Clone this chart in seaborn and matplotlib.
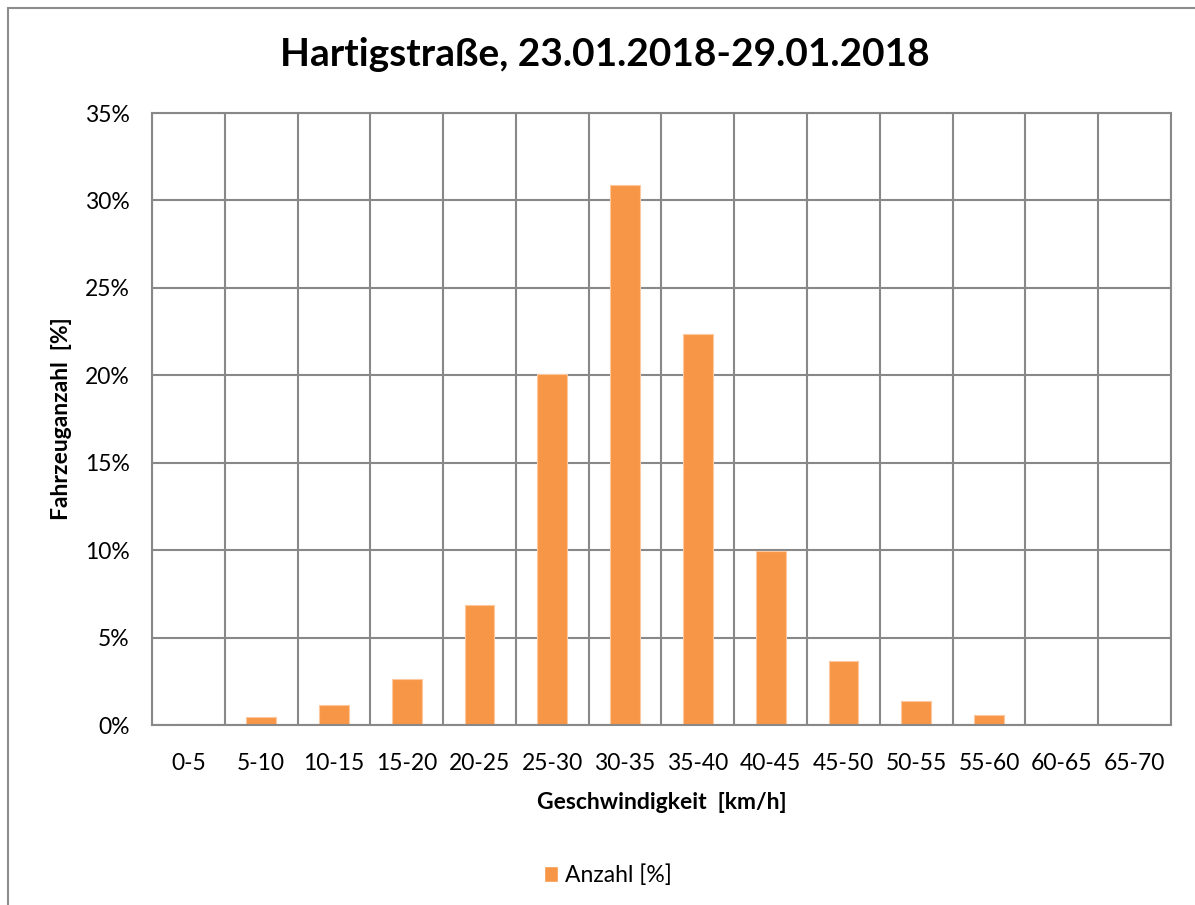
import matplotlib
matplotlib.use("Agg")
import matplotlib.pyplot as plt
from matplotlib.ticker import FixedLocator, PercentFormatter
from matplotlib.patches import Rectangle, Patch
import numpy as np
import pandas as pd
import seaborn as sns

# speed classes and share of vehicles (percent)
speed_classes = ["0-5", "5-10", "10-15", "15-20", "20-25", "25-30", "30-35",
                 "35-40", "40-45", "45-50", "50-55", "55-60", "60-65", "65-70"]
share_pct = [0.05, 0.46, 1.13, 2.63, 6.84, 20.06, 30.88,
             22.35, 9.95, 3.66, 1.35, 0.55, 0.03, 0.03]
y_ticks = [0, 5, 10, 15, 20, 25, 30, 35]

df = pd.DataFrame({"Geschwindigkeit": speed_classes, "Anteil": share_pct})

sns.set_style("white")
plt.rcParams["font.family"] = ["Lato", "DejaVu Sans"]
plt.rcParams["text.color"] = "black"
plt.rcParams["xtick.color"] = "black"
plt.rcParams["ytick.color"] = "black"
plt.rcParams["axes.labelcolor"] = "black"

bar_col = "#F79646"
grid_col = "#888888"

fig = plt.figure(figsize=(11.95, 9.05), dpi=100)
ax = fig.add_axes([152 / 1195, 1 - 725 / 905, (1171 - 152) / 1195, (725 - 113) / 905])

sns.barplot(data=df, x="Geschwindigkeit", y="Anteil", color=bar_col,
            width=0.41, saturation=1, edgecolor="#FBC8A0", linewidth=0.8, ax=ax)

ax.set_xlim(-0.5, len(speed_classes) - 0.5)
ax.set_ylim(0, 35)
ax.yaxis.set_major_locator(FixedLocator(y_ticks))
ax.yaxis.set_major_formatter(PercentFormatter(decimals=0))

# Excel style: gridlines and ticks between categories
ax.xaxis.set_minor_locator(FixedLocator(np.arange(-0.5, len(speed_classes), 1.0)))
ax.tick_params(axis="x", which="major", length=0, pad=20, labelsize=16.5)
ax.tick_params(axis="x", which="minor", length=10, width=1.5, color=grid_col, direction="out")
ax.tick_params(axis="y", which="major", length=8, width=1.5, color=grid_col,
               direction="out", pad=8, labelsize=16.5)
ax.grid(True, which="minor", axis="x", color=grid_col, linewidth=1.5)
ax.grid(True, which="major", axis="y", color=grid_col, linewidth=1.5)
ax.set_axisbelow(True)
for s in ax.spines.values():
    s.set_color(grid_col)
    s.set_linewidth(1.5)

ax.set_xlabel("Geschwindigkeit  [km/h]", fontsize=16.5, fontweight="bold", labelpad=13)
ax.set_ylabel("Fahrzeuganzahl  [%]", fontsize=16.5, fontweight="bold", labelpad=9)

fig.text(0.506, 1 - 55 / 905, "Hartigstraße, 23.01.2018-29.01.2018",
         ha="center", va="center", fontsize=28, fontweight="bold")

fig.legend(handles=[Patch(facecolor=bar_col, label="Anzahl [%]")],
           loc="center", bbox_to_anchor=(608 / 1195, 1 - 875 / 905), frameon=False,
           fontsize=16.5, handlelength=0.6, handleheight=0.7, handletextpad=0.3)

# outer chart border
fig.patches.append(Rectangle((8 / 1195, -0.1), 1.2, 1 - 8 / 905 + 0.1,
                             transform=fig.transFigure, fill=False,
                             edgecolor="#8C8C8C", linewidth=1.5))

fig.savefig("out.png", dpi=100)
